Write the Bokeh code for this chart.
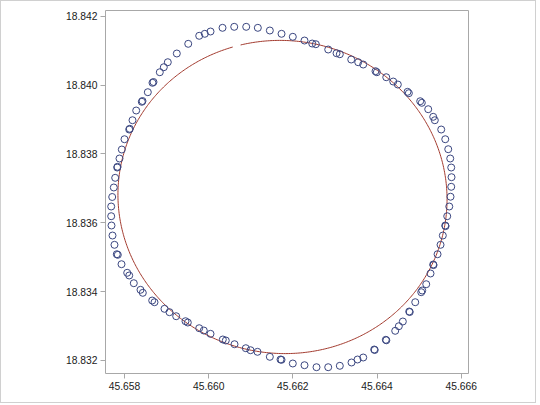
import numpy as np
from bokeh.plotting import figure
from bokeh.models import Range1d, FixedTicker, PrintfTickFormatter
from bokeh.embed import file_html
from bokeh.resources import INLINE

# observed points (longitude, latitude)
lon = [45.659775, 45.659908, 45.660044, 45.660329, 45.660607, 45.660892, 45.661168, 45.661453, 45.661731,
       45.659514, 45.659243, 45.659029, 45.658934, 45.658839, 45.658665, 45.658689, 45.658554, 45.658411,
       45.658428, 45.658278, 45.658190, 45.658112, 45.658126, 45.658000, 45.657936, 45.657881, 45.657827,
       45.657834, 45.657779, 45.657746, 45.657708, 45.657684, 45.657684, 45.657691, 45.657715, 45.657762,
       45.657817, 45.657841, 45.657929, 45.658064, 45.658112, 45.658221, 45.658380, 45.658435, 45.658658,
       45.658713, 45.658950, 45.659069, 45.659228, 45.659449, 45.659504, 45.659775, 45.659884, 45.660044,
       45.660336, 45.660407, 45.660614, 45.660882, 45.660994, 45.661160, 45.661453, 45.661707, 45.661731,
       45.661999, 45.662277, 45.662562, 45.662840, 45.663116, 45.663394, 45.663537, 45.663672, 45.663933,
       45.663945, 45.664209, 45.664221, 45.664432, 45.664518, 45.664613, 45.664765, 45.664777, 45.664908,
       45.665050, 45.665074, 45.665169, 45.665271, 45.665335, 45.665342, 45.665438, 45.665509, 45.665563,
       45.665621, 45.665628, 45.665668, 45.665716, 45.665746, 45.665763, 45.665770, 45.665763, 45.665739,
       45.665692, 45.665621, 45.665525, 45.665335, 45.665373, 45.665216, 45.665026, 45.665064, 45.664725,
       45.664756, 45.664385, 45.664494, 45.664219, 45.663964, 45.663995, 45.663553, 45.663672, 45.663387,
       45.663038, 45.663116, 45.662840, 45.662460, 45.662546, 45.662277, 45.661999]
lat = [18.841431, 18.841489, 18.841556, 18.841663, 18.841692, 18.841692, 18.841663, 18.841585, 18.841489,
       18.841198, 18.840917, 18.840664, 18.840519, 18.840373, 18.840066, 18.840089, 18.839793, 18.839514,
       18.839537, 18.839261, 18.838979, 18.838709, 18.838730, 18.838427, 18.838128, 18.837867, 18.837605,
       18.837626, 18.837306, 18.837025, 18.836749, 18.836473, 18.836191, 18.835921, 18.835630, 18.835360,
       18.835087, 18.835070, 18.834797, 18.834547, 18.834469, 18.834245, 18.834053, 18.833966, 18.833742,
       18.833693, 18.833501, 18.833403, 18.833286, 18.833141, 18.833103, 18.832938, 18.832871, 18.832775,
       18.832610, 18.832581, 18.832473, 18.832357, 18.832299, 18.832252, 18.832107, 18.832029, 18.832020,
       18.831913, 18.831863, 18.831805, 18.831805, 18.831846, 18.831942, 18.832029, 18.832087, 18.832319,
       18.832305, 18.832601, 18.832587, 18.832862, 18.832996, 18.833133, 18.833423, 18.833408, 18.833693,
       18.833984, 18.834033, 18.834216, 18.834527, 18.834788, 18.834771, 18.835087, 18.835360, 18.835630,
       18.835921, 18.835903, 18.836191, 18.836473, 18.836757, 18.837045, 18.837324, 18.837605, 18.837867,
       18.838137, 18.838427, 18.838709, 18.839078, 18.838979, 18.839299, 18.839531, 18.839485, 18.839804,
       18.839764, 18.840103, 18.840016, 18.840228, 18.840403, 18.840373, 18.840664, 18.840597, 18.840742,
       18.840925, 18.840896, 18.841033, 18.841207, 18.841187, 18.841294, 18.841402]

# fitted ellipse parameters
fit_center = (45.661754, 18.836749)
fit_semi_axes = (0.003908, 0.004550)
fit_tilt = 0.05
fit_arc = (1.82, 1.77 + 2 * np.pi)

x_ticks = [45.658, 45.660, 45.662, 45.664, 45.666]
y_ticks = [18.832, 18.834, 18.836, 18.838, 18.840, 18.842]

t = np.linspace(fit_arc[0], fit_arc[1], 600)
u = fit_semi_axes[0] * np.cos(t)
v = fit_semi_axes[1] * np.sin(t)
fit_x = fit_center[0] + u * np.cos(fit_tilt) - v * np.sin(fit_tilt)
fit_y = fit_center[1] + u * np.sin(fit_tilt) + v * np.cos(fit_tilt)

p = figure(width=536, height=403, output_backend="svg", toolbar_location=None,
           x_range=Range1d(45.6575486, 45.6661733), y_range=Range1d(18.8316224, 18.842166),
           min_border_left=104, min_border_right=69, min_border_top=9, min_border_bottom=31)
p.styles = {"margin": "0px", "border": "1px solid #d0d0d0"}
p.background_fill_color = "white"
p.border_fill_color = "white"
p.outline_line_color = "#a8a8a8"
p.xgrid.grid_line_color = None
p.ygrid.grid_line_color = None

for ax, ticks in ((p.xaxis, x_ticks), (p.yaxis, y_ticks)):
    ax.ticker = FixedTicker(ticks=ticks)
    ax.formatter = PrintfTickFormatter(format="%.3f")
    ax.axis_line_color = None
    ax.major_tick_line_color = "#a8a8a8"
    ax.minor_tick_line_color = None
    ax.major_tick_in = 0
    ax.major_tick_out = 5
    ax.major_label_standoff = 3
    ax.major_label_text_font = "Liberation Sans"
    ax.major_label_text_font_size = "10.3px"
    ax.major_label_text_color = "#1a1a1a"

p.line(fit_x, fit_y, line_color="#A23A2E", line_width=1)
p.scatter(lon, lat, marker="circle", size=7, fill_color=None, line_color="#3a4680", line_width=1)

open("out.html", "w").write(file_html(p, INLINE))
